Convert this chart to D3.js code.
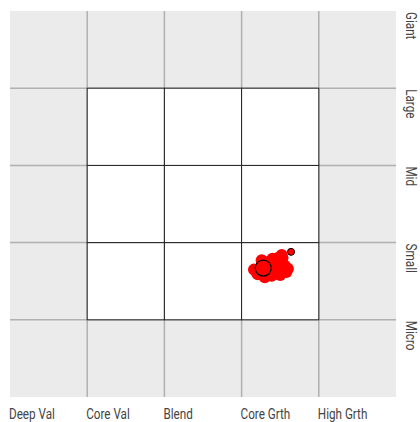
<!DOCTYPE html>
<html lang="en">
<head>
<meta charset="utf-8">
<title>Style box</title>
<script src="https://cdn.jsdelivr.net/npm/d3@7"></script>
<style>
  body { margin: 0; background: #fff; }
</style>
</head>
<body>
<script>
// labels
var styles = ["Deep Val", "Core Val", "Blend", "Core Grth", "High Grth"];
var sizes = ["Micro", "Small", "Mid", "Large", "Giant"];

// holdings positions (style score, size score)
var holdX = [3.19, 3.26, 3.34, 3.42, 3.50, 3.56, 3.58, 3.50, 3.39, 3.29, 3.21, 3.16, 3.37, 3.45, 3.52, 3.26, 3.34, 3.47, 3.23, 3.30, 3.53, 3.40, 3.60];
var holdY = [1.62, 1.70, 1.75, 1.77, 1.75, 1.70, 1.62, 1.58, 1.57, 1.57, 1.59, 1.65, 1.67, 1.67, 1.84, 1.77, 1.62, 1.80, 1.66, 1.55, 1.80, 1.79, 1.66];
// centroid and one separate holding
var centroid = [3.28, 1.67];
var extra = [3.64, 1.88];

var W = 420, H = 422;
var pL = 10, pR = 396, pT = 11, pB = 397;
var font = "Roboto, 'Liberation Sans', sans-serif";

var svg = d3.select("body").append("svg")
  .attr("width", W).attr("height", H);

var x = d3.scaleLinear().domain([0, 5]).range([pL, pR]);
var y = d3.scaleLinear().domain([0, 5]).range([pB, pT]);

// panel
svg.append("rect")
  .attr("x", x(0)).attr("y", y(5))
  .attr("width", x(5) - x(0)).attr("height", y(0) - y(5))
  .attr("fill", "#ebebeb");

// grid lines
var g = svg.append("g").attr("stroke", "#b0b0b0").attr("stroke-width", 1.5);
[1, 2, 3, 4].forEach(function(v) {
  g.append("line").attr("x1", x(v)).attr("x2", x(v)).attr("y1", y(0)).attr("y2", y(5));
  g.append("line").attr("y1", y(v)).attr("y2", y(v)).attr("x1", x(0)).attr("x2", x(5));
});

// inner 3x3 white cells
var cells = [];
for (var i = 1; i < 4; i++) for (var j = 1; j < 4; j++) cells.push([i, j]);
svg.append("g").selectAll("rect").data(cells).enter().append("rect")
  .attr("x", function(d) { return x(d[0]); })
  .attr("y", function(d) { return y(d[1] + 1); })
  .attr("width", x(1) - x(0))
  .attr("height", y(0) - y(1))
  .attr("fill", "#fff")
  .attr("stroke", "#222")
  .attr("stroke-width", 1);

// holdings
svg.append("g").selectAll("circle").data(d3.range(holdX.length)).enter().append("circle")
  .attr("cx", function(i) { return x(holdX[i]); })
  .attr("cy", function(i) { return y(holdY[i]); })
  .attr("r", 6)
  .attr("fill", "#ff0000");

svg.append("circle")
  .attr("cx", x(extra[0])).attr("cy", y(extra[1])).attr("r", 3.5)
  .attr("fill", "#ff0000").attr("stroke", "#000").attr("stroke-width", 1);

svg.append("circle")
  .attr("cx", x(centroid[0])).attr("cy", y(centroid[1])).attr("r", 8)
  .attr("fill", "none").attr("stroke", "#000").attr("stroke-width", 1.2);

// bottom labels (condensed look)
svg.append("g").selectAll("text").data(styles).enter().append("text")
  .attr("transform", function(d, i) { return "translate(" + (x(i) - 1) + ",419) scale(0.78,1)"; })
  .attr("font-family", font)
  .attr("font-size", 15)
  .attr("fill", "#444")
  .text(function(d) { return d; });

// right labels
svg.append("g").selectAll("text").data(sizes).enter().append("text")
  .attr("transform", function(d, i) { return "translate(406," + (y(i + 1) + 1) + ") rotate(90) scale(0.78,1)"; })
  .attr("font-family", font)
  .attr("font-size", 15)
  .attr("fill", "#444")
  .text(function(d) { return d; });
</script>
</body>
</html>
